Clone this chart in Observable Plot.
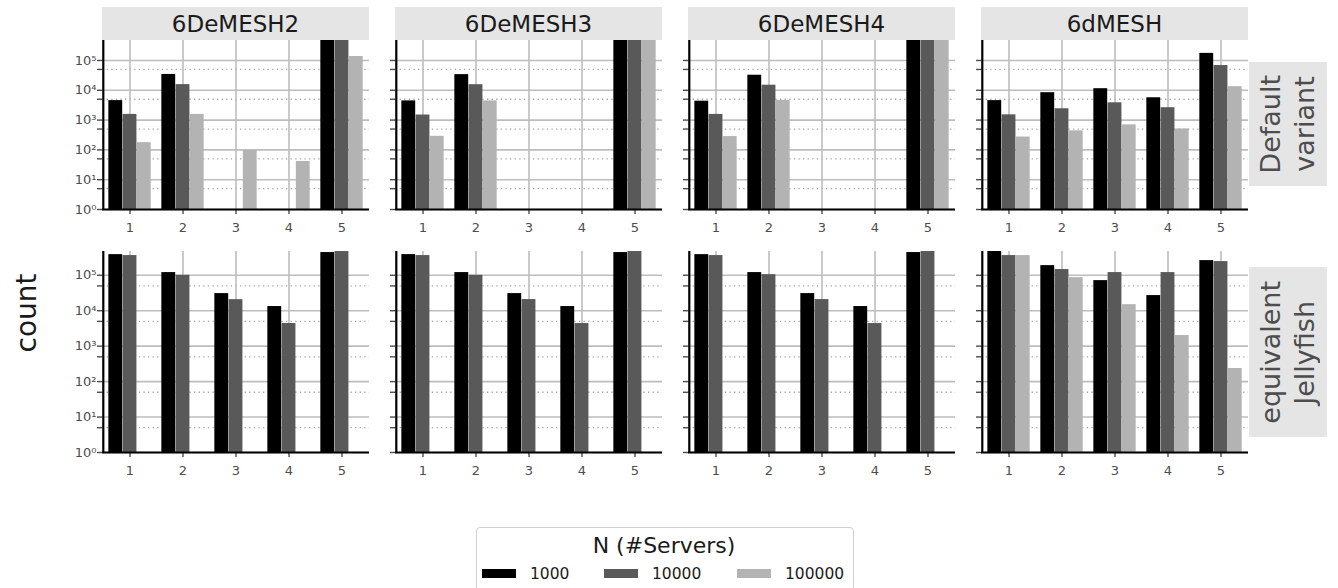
<!DOCTYPE html>
<html><head><meta charset="utf-8">
<script src="https://cdn.jsdelivr.net/npm/d3@7"></script>
<script src="https://cdn.jsdelivr.net/npm/@observablehq/plot@0.6"></script>
<style>
body{margin:0;background:#fff;font-family:"DejaVu Sans",sans-serif;}
#root{position:relative;width:1338px;height:588px;overflow:hidden;background:#fff;}
.panel{position:absolute;}
.strip{position:absolute;background:#e5e5e5;display:flex;align-items:center;justify-content:center;font-size:23px;color:#1a1a1a;}
.rowstrip{position:absolute;background:#e5e5e5;display:flex;align-items:center;justify-content:center;}
.rowstrip span{writing-mode:vertical-rl;transform:rotate(180deg);font-size:27px;color:#4d4d4d;line-height:34px;text-align:center;white-space:pre;}
.ylab{position:absolute;font-size:28px;color:#1a1a1a;transform:translate(-50%,-50%) rotate(-90deg);white-space:nowrap;}
.legend{position:absolute;border:1px solid #d0d0d0;border-radius:4px;box-sizing:border-box;background:#fff;}
.ltitle{position:absolute;font-size:22px;color:#1a1a1a;white-space:nowrap;transform:translate(-50%,-50%);}
.sw{position:absolute;}
.lt{position:absolute;font-size:15.5px;color:#1a1a1a;transform:translateY(-50%);white-space:nowrap;}
</style></head>
<body><div id="root"></div>
<script>
// ---- data ----
const topologies = ["6DeMESH2", "6DeMESH3", "6DeMESH4", "6dMESH"];
const variants = ["Default\nvariant", "equivalent\nJellyfish"];
const hops = [1, 2, 3, 4, 5];
const servers = [1000, 10000, 100000];
const serverColors = ["#000000", "#595959", "#b3b3b3"];
const yTickMajor = [1, 10, 100, 1000, 10000, 100000];
const yTickMinor = [5, 50, 500, 5000, 50000];

// rows: one array per N (1000, 10000, 100000), values per hop 1..5 (null = no bar)
const default_6DeMESH2 = [
  [4500, 34000, null, null, 1000000],
  [1550, 15500, null, null, 1000000],
  [175, 1550, 95, 41, 136000]
];
const default_6DeMESH3 = [
  [4400, 33500, null, null, 1000000],
  [1480, 15400, null, null, 1000000],
  [285, 4400, null, null, 1000000]
];
const default_6DeMESH4 = [
  [4300, 32000, null, null, 1000000],
  [1550, 14800, null, null, 1000000],
  [280, 4600, null, null, 1000000]
];
const default_6dMESH = [
  [4500, 8300, 11300, 5600, 173000],
  [1500, 2400, 3800, 2600, 67600],
  [270, 435, 690, 505, 13200]
];
const jellyfish_6DeMESH2 = [
  [382000, 119000, 30400, 13100, 437000],
  [359000, 100000, 20500, 4350, 467000],
  [null, null, null, null, null]
];
const jellyfish_6DeMESH3 = [
  [382000, 119000, 30400, 13100, 437000],
  [359000, 100000, 20600, 4340, 467000],
  [null, null, null, null, null]
];
const jellyfish_6DeMESH4 = [
  [382000, 119000, 30400, 13100, 437000],
  [359000, 104000, 20600, 4340, 467000],
  [null, null, null, null, null]
];
const jellyfish_6dMESH = [
  [480000, 187000, 70600, 26700, 259000],
  [359000, 145000, 119000, 119000, 243000],
  [359000, 85600, 14800, 1990, 234]
];
const panelData = [
  [default_6DeMESH2, default_6DeMESH3, default_6DeMESH4, default_6dMESH],
  [jellyfish_6DeMESH2, jellyfish_6DeMESH3, jellyfish_6DeMESH4, jellyfish_6dMESH]
];

// ---- layout ----
const root = document.getElementById("root");
const colLeft = [102, 395, 688, 981];
const panelW = 267;
const rowTop = [40, 251];
const rowH = [169, 201];
const yMax = Math.pow(10, 5.67);
const sup = ["⁰", "¹", "²", "³", "⁴", "⁵"];

function makePanel(rows, r, c) {
  const mL = c === 0 ? 50 : 12, mR = 2, mT = 2, mB = 34;
  const bw = panelW / hops.length;
  const groupW = bw * 0.8;
  const barW = groupW / servers.length;
  const off = (bw - groupW) / 2;
  const marks = [
    Plot.ruleY(yTickMajor, {stroke: "#bdbdbd", strokeWidth: 1.6}),
    Plot.ruleY(yTickMinor, {stroke: "#a6a6a6", strokeWidth: 1.3, strokeDasharray: "1.3,3.3"}),
    Plot.ruleX(hops, {stroke: "#bdbdbd", strokeWidth: 1.6})
  ];
  servers.forEach((n, i) => {
    const data = hops.map((h, j) => ({hop: h, value: rows[i][j]})).filter(d => d.value != null);
    marks.push(Plot.barY(data, {
      x: "hop", y1: 1, y2: "value", fill: serverColors[i],
      insetLeft: off + i * barW, insetRight: bw - off - (i + 1) * barW, clip: true
    }));
  });
  marks.push(Plot.axisY({ticks: yTickMajor, tickFormat: d => c === 0 ? "10" + sup[Math.round(Math.log10(d))] : "",
    tickSize: 5, tickPadding: 1, fontSize: 13, color: "#4d4d4d", strokeWidth: 1.4, label: null}));
  marks.push(Plot.axisY({ticks: yTickMinor, tickFormat: () => "", tickSize: 5, color: "#4d4d4d", strokeWidth: 1.4, label: null}));
  marks.push(Plot.axisX({tickSize: 5, tickPadding: 8, fontSize: 13, color: "#4d4d4d", strokeWidth: 1.4, label: null}));
  marks.push(Plot.ruleY([1], {stroke: "#000", strokeWidth: 2.2}));
  marks.push(Plot.ruleX([hops[0]], {dx: -bw / 2, stroke: "#000", strokeWidth: 2.2}));
  const svg = Plot.plot({
    width: panelW + mL + mR, height: rowH[r] + mT + mB,
    marginLeft: mL, marginRight: mR, marginTop: mT, marginBottom: mB,
    x: {type: "band", domain: hops, padding: 0},
    y: {type: "log", domain: [1, yMax]},
    style: {background: "transparent", fontFamily: "DejaVu Sans", overflow: "visible"},
    marks
  });
  svg.classList.add("panel");
  svg.style.position = "absolute";
  svg.style.left = (colLeft[c] - mL) + "px";
  svg.style.top = (rowTop[r] - mT) + "px";
  root.appendChild(svg);
}

panelData.forEach((row, r) => row.forEach((rows, c) => makePanel(rows, r, c)));

// column strips
topologies.forEach((t, c) => {
  const d = document.createElement("div");
  d.className = "strip";
  d.style.left = colLeft[c] + "px";
  d.style.top = "7px";
  d.style.width = panelW + "px";
  d.style.height = "33px";
  d.textContent = t;
  root.appendChild(d);
});

// row strips
const rowStrip = [[62, 124], [267, 170]];
variants.forEach((v, r) => {
  const d = document.createElement("div");
  d.className = "rowstrip";
  d.style.left = "1249px";
  d.style.top = rowStrip[r][0] + "px";
  d.style.width = "78px";
  d.style.height = rowStrip[r][1] + "px";
  const s = document.createElement("span");
  s.textContent = v;
  d.appendChild(s);
  root.appendChild(d);
});

// y label
const yl = document.createElement("div");
yl.className = "ylab";
yl.style.left = "26px";
yl.style.top = "313px";
yl.textContent = "count";
root.appendChild(yl);

// legend
const lg = document.createElement("div");
lg.className = "legend";
lg.style.left = "476px"; lg.style.top = "527px"; lg.style.width = "378px"; lg.style.height = "75px";
root.appendChild(lg);
const lt = document.createElement("div");
lt.className = "ltitle";
lt.style.left = "664px"; lt.style.top = "545px";
lt.textContent = "N (#Servers)";
root.appendChild(lt);
const swX = [482, 604, 737];
servers.forEach((n, i) => {
  const s = document.createElement("div");
  s.className = "sw";
  s.style.left = swX[i] + "px"; s.style.top = "569px";
  s.style.width = "34px"; s.style.height = "9px";
  s.style.background = serverColors[i];
  root.appendChild(s);
  const t = document.createElement("div");
  t.className = "lt";
  t.style.left = (swX[i] + 48) + "px"; t.style.top = "573.5px";
  t.textContent = String(n);
  root.appendChild(t);
});
</script>
</body></html>
